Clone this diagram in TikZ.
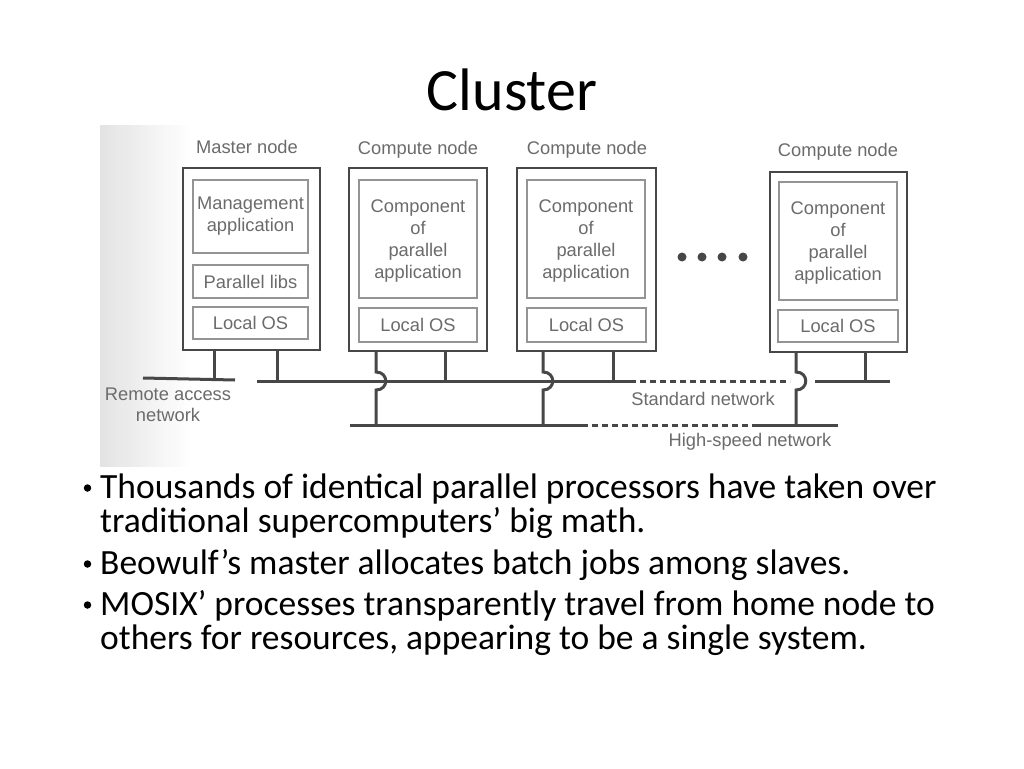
\documentclass[tikz,border=0pt]{standalone}
\usepackage{fontspec}
\setmainfont{Carlito}
\newfontfamily\diagfont{Liberation Sans}
\begin{document}
\begin{tikzpicture}[x=1pt,y=-1pt,
  outerbox/.style={draw=black!72, line width=2.2pt, inner sep=0pt},
  innerbox/.style={draw=black!42, line width=1.5pt, inner sep=0pt, align=center,
    font=\diagfont\fontsize{18.3}{22}\selectfont, text=black!58},
  lbl/.style={inner sep=0pt, align=center, font=\diagfont\fontsize{18.3}{21}\selectfont, text=black!58},
  net/.style={draw=black!72, line width=3pt},
  dnet/.style={draw=black!72, line width=3pt, dash pattern=on 6pt off 4pt},
  dotn/.style={circle, fill=black!72, inner sep=0pt, minimum size=9pt},
  titlef/.style={font=\fontsize{60}{64}\selectfont, inner sep=0pt},
  bodyf/.style={font=\fontsize{35.5}{36}\selectfont, inner sep=0pt},
  bulletf/.style={circle, fill=black, inner sep=0pt, minimum size=7.5pt},
  comptext/.style={inner sep=0pt, align=center, font=\diagfont\fontsize{18.3}{22}\selectfont, text=black!58},
]
\useasboundingbox (0,0) rectangle (1024,768);
\fill[white] (0,0) rectangle (1024,768);
% photo background (light grey fading to the right)
\foreach \i in {0,...,29} {
  \pgfmathsetmacro{\gv}{11*(1-\i/30)}
  \fill[black!\gv] (100+3*\i,125) rectangle (103.5+3*\i,467);
}

% title
\node[titlef, anchor=base] (title) at (512,110) {Cluster};

% Master node
\node[lbl, anchor=base] (mlab) at (247,153) {Master node};
\node[outerbox, minimum width=137pt, minimum height=182pt] (m) at (251.5,259) {};
\node[innerbox, minimum width=115pt, minimum height=73pt] (mapp) at (250.5,216.5) {Management\\application};
\node[innerbox, minimum width=115pt, minimum height=33pt] (mlib) at (250.5,281.5) {Parallel libs};
\node[innerbox, minimum width=115pt, minimum height=32pt] (mos) at (250.5,323) {Local OS};

% Compute node 1
\node[lbl, anchor=base] (c1lab) at (418,154) {Compute node};
\node[outerbox, minimum width=138pt, minimum height=183pt] (c1) at (418,259.5) {};
\node[innerbox, minimum width=118pt, minimum height=118pt] (c1app) at (418,239) {};
\node[comptext] (c1txt) at (418,241) {Component\\of\\parallel\\application};
\node[innerbox, minimum width=118pt, minimum height=34pt] (c1os) at (418,325) {Local OS};

% Compute node 2
\node[lbl, anchor=base] (c2lab) at (587,154) {Compute node};
\node[outerbox, minimum width=139pt, minimum height=183pt] (c2) at (586.5,259.5) {};
\node[innerbox, minimum width=118pt, minimum height=118pt] (c2app) at (586,239) {};
\node[comptext] (c2txt) at (586,241) {Component\\of\\parallel\\application};
\node[innerbox, minimum width=119pt, minimum height=34pt] (c2os) at (586.5,325) {Local OS};

% dots
\node[dotn] (d1) at (682,257) {};
\node[dotn] (d2) at (702,257) {};
\node[dotn] (d3) at (722,257) {};
\node[dotn] (d4) at (743,257) {};

% Compute node 4
\node[lbl, anchor=base] (c4lab) at (838,156) {Compute node};
\node[outerbox, minimum width=137pt, minimum height=180pt] (c4) at (838.5,262) {};
\node[innerbox, minimum width=118pt, minimum height=118pt] (c4app) at (838,241) {};
\node[comptext] (c4txt) at (838,243) {Component\\of\\parallel\\application};
\node[innerbox, minimum width=120pt, minimum height=32pt] (c4os) at (838,326) {Local OS};

% network coordinates
\coordinate (ra1) at (143,378);
\coordinate (ra2) at (235,380);
\coordinate (sn1) at (257,381);
\coordinate (sn2) at (630,381);
\coordinate (sn3) at (790,381);
\coordinate (sn4) at (815,381);
\coordinate (sn5) at (890,381);
\coordinate (hs1) at (350,425);
\coordinate (hs2) at (582,425);
\coordinate (hs3) at (753,425);
\coordinate (hs4) at (838,425);

% remote access network
\draw[net] (ra1) -- (ra2);
% standard network
\draw[net] (sn1) -- (sn2);
\draw[dnet] (sn2) -- (sn3);
\draw[net] (sn4) -- (sn5);
% high-speed network
\draw[net] (hs1) -- (hs2);
\draw[dnet] (hs2) -- (hs3);
\draw[net] (hs3) -- (hs4);

% master legs
\draw[net] (m.south -| 214,0) -- (ra2 -| 214,0);
\draw[net] (m.south -| 277,0) -- (sn1 -| 277,0);
% compute 1 legs
\draw[net] (c1.south -| 376,0) -- (376,372) .. controls (389,372) and (389,390) .. (376,390) -- (hs1 -| 376,0);
\draw[net] (c1.south -| 445,0) -- (sn1 -| 445,0);
% compute 2 legs
\draw[net] (c2.south -| 543,0) -- (543,372) .. controls (556,372) and (556,390) .. (543,390) -- (hs1 -| 543,0);
\draw[net] (c2.south -| 613,0) -- (sn1 -| 613,0);
% compute 4 legs
\draw[net] (c4.south -| 796,0) -- (796,372) .. controls (809,372) and (809,390) .. (796,390) -- (hs1 -| 796,0);
\draw[net] (c4.south -| 865,0) -- (sn1 -| 865,0);

% network labels
\node[lbl] (ralab) at (168,405) {Remote access\\network};
\node[lbl] (snlab) at (703,399) {Standard network};
\node[lbl] (hslab) at (750,442) {High-speed network};

% bullets
\node[bulletf] (b1d) at (87.5,488) {};
\node[bodyf, anchor=base west] (b1a) at (100,498) {Thousands of identical parallel processors have taken over};
\node[bodyf, anchor=base west] (b1b) at (100,532) {traditional supercomputers’ big math.};
\node[bulletf] (b2d) at (87.5,564) {};
\node[bodyf, anchor=base west] (b2) at (100,574) {Beowulf’s master allocates batch jobs among slaves.};
\node[bulletf] (b3d) at (87.5,605) {};
\node[bodyf, anchor=base west] (b3a) at (100,615) {MOSIX’ processes transparently travel from home node to};
\node[bodyf, anchor=base west] (b3b) at (100,649) {others for resources, appearing to be a single system.};
\end{tikzpicture}
\end{document}
